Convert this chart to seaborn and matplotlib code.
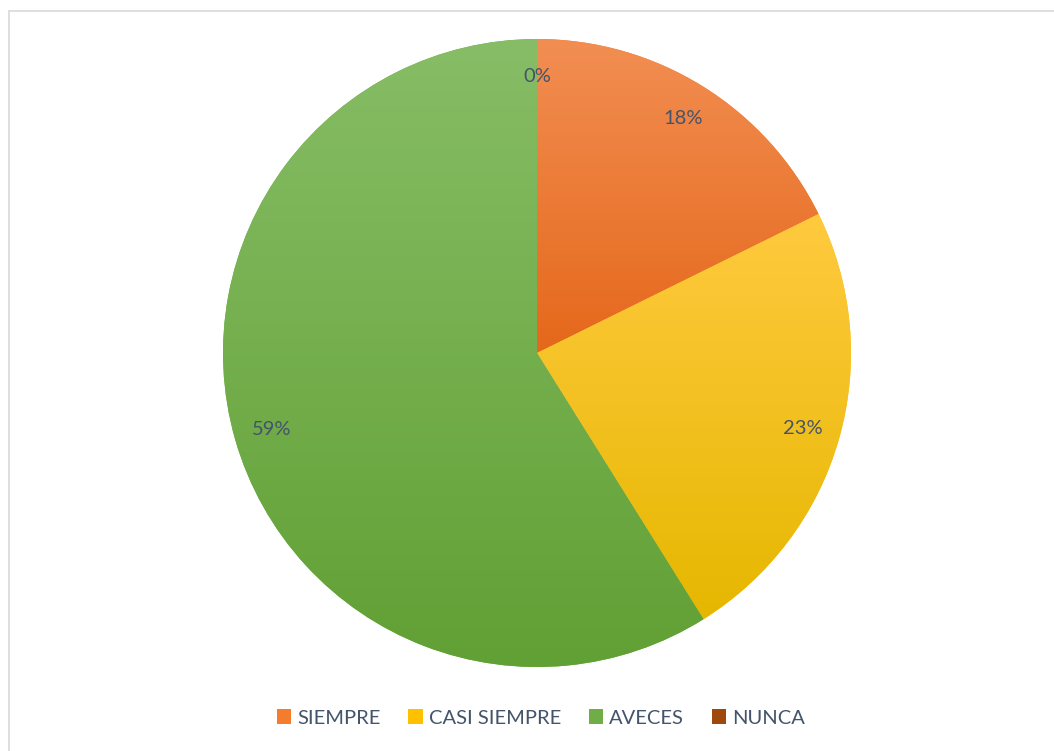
import numpy as np
import matplotlib
matplotlib.use("Agg")
import matplotlib.pyplot as plt
from matplotlib.lines import Line2D
from matplotlib.patches import Patch
import seaborn as sns

sns.set_theme(style="white")
plt.rcParams['font.family'] = ['Lato', 'DejaVu Sans']

# data (percent shares)
categories = ['SIEMPRE', 'CASI SIEMPRE', 'AVECES', 'NUNCA']
shares = [17.7, 23.4, 58.9, 0]

# colours (top light -> bottom dark, like the Excel gradient)
light = ['#F28E52', '#FFCA3F', '#87BD66', '#B0643A']
mid = ['#F47C2C', '#FFC000', '#70AD47', '#9E480E']
dark = ['#E5681B', '#E6B700', '#61A034', '#8E3F0C']
text_col = '#44546A'

fig = plt.figure(figsize=(10.54, 7.51), dpi=100)
W, H = 1054, 751
cx, cy, r = 537, 353, 314
ax = fig.add_axes([(cx - r) / W, (H - cy - r) / H, 2 * r / W, 2 * r / H])

wedges, texts, autotexts = ax.pie(
    shares, colors=mid, startangle=90, counterclock=False,
    autopct='%.0f%%', pctdistance=0.88,
    wedgeprops=dict(linewidth=0),
    textprops=dict(color=text_col, fontsize=14.5))

# gradient fill clipped to each slice
grad = np.linspace(0, 1, 256).reshape(-1, 1)
for w, lo, hi in zip(wedges, dark, light):
    verts = w.get_path().vertices
    y0, y1 = verts[:, 1].min(), verts[:, 1].max()
    if y1 - y0 < 1e-6:
        continue
    cmap = sns.blend_palette([lo, hi], as_cmap=True)
    im = ax.imshow(grad, cmap=cmap, origin='lower', aspect='auto',
                   extent=(-1.05, 1.05, y0, y1), zorder=1.5)
    im.set_clip_path(w)

for t in autotexts:
    t.set_zorder(5)

ax.set_xlim(-1, 1)
ax.set_ylim(-1, 1)
ax.set_aspect('equal')
ax.axis('off')

handles = [Patch(facecolor=c, edgecolor='none') for c in mid]
fig.legend(handles, categories, loc='center', bbox_to_anchor=(541 / W, 1 - 718 / H),
           ncol=4, frameon=False, fontsize=14.5, labelcolor=text_col,
           handlelength=0.7, handleheight=0.7, handletextpad=0.3,
           columnspacing=1.4)

# chart-area border (only left and top edges fall inside the image)
bc = '#D9D9D9'
fig.add_artist(Line2D([8.5 / W, 8.5 / W], [0, 1 - 10.5 / H], color=bc, lw=1.2))
fig.add_artist(Line2D([8.5 / W, 1], [1 - 10.5 / H, 1 - 10.5 / H], color=bc, lw=1.2))

fig.savefig('out.png', dpi=100)
